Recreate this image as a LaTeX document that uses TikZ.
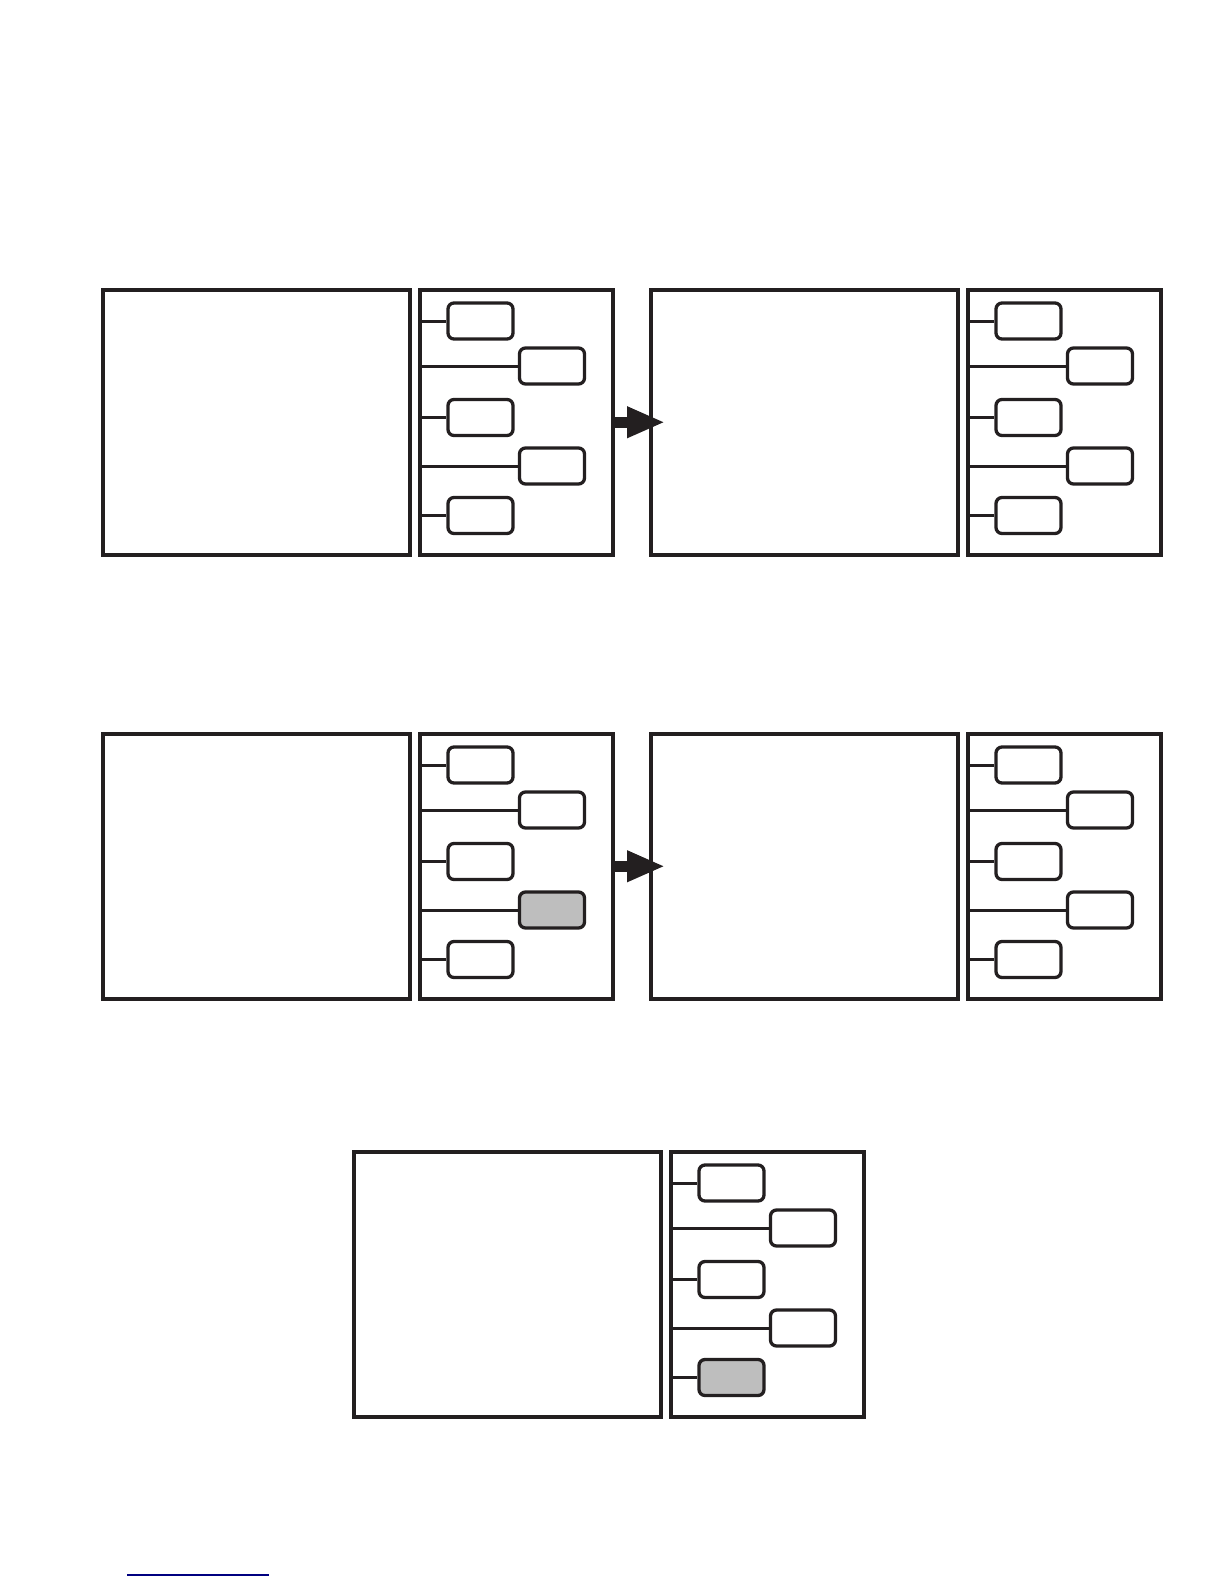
\documentclass[tikz,border=0pt]{standalone}
\usetikzlibrary{arrows.meta,positioning}

\definecolor{ink}{HTML}{231F20}
\definecolor{keygray}{HTML}{BEBEBE}
\definecolor{linkblue}{HTML}{000080}

\tikzset{
  screen/.style={draw=ink, line width=3.5pt, minimum width=307pt, minimum height=265pt, inner sep=0pt, anchor=north west},
  keypanel/.style={draw=ink, line width=3.5pt, minimum width=193pt, minimum height=265pt, inner sep=0pt, anchor=north west},
  softkey/.style={draw=ink, line width=3.3pt, rounded corners=6pt, minimum width=65pt, minimum height=36pt, inner sep=0pt},
  keyline/.style={draw=ink, line width=3pt},
  nextarrow/.style={draw=ink, line width=11pt, -{Triangle[length=38pt,width=29pt]}}
}

% one device: prefix, x, y, number of the pressed key (0 = none)
\newcommand{\device}[4]{%
  \node[screen] (#1scr) at (#2,#3) {};
  \node[keypanel] (#1pan) at ({#2+317},#3) {};
  \foreach \k/\kx/\ky in {1/62.5/33, 2/134/78, 3/62.5/129.5, 4/134/178, 5/62.5/227.5}{
    \ifnum\k=#4\def\keyfill{keygray}\else\def\keyfill{white}\fi
    \node[softkey, fill=\keyfill] (#1k\k) at ({#2+317+\kx},{#3+\ky}) {};
    \draw[keyline] (#1pan.west |- #1k\k.west) -- (#1k\k.west);
  }
}

\begin{document}
\begin{tikzpicture}[x=1pt, y=-1pt]
    \useasboundingbox (0,0) rectangle (1224,1584);

    % first step
    \device{a}{101}{288}{0}
    \device{b}{649}{288}{0}
    \coordinate (tipab) at ([xshift=16pt]bscr.west);
    \draw[nextarrow] (apan.east) -- (tipab);

    % second step
    \device{c}{101}{732}{4}
    \device{d}{649}{732}{0}
    \coordinate (tipcd) at ([xshift=16pt]dscr.west);
    \draw[nextarrow] (cpan.east) -- (tipcd);

    % result
    \device{e}{352}{1150}{5}

    % link underline
    \draw[linkblue, line width=1.2pt] (127,1575) -- (269,1575);
\end{tikzpicture}
\end{document}
